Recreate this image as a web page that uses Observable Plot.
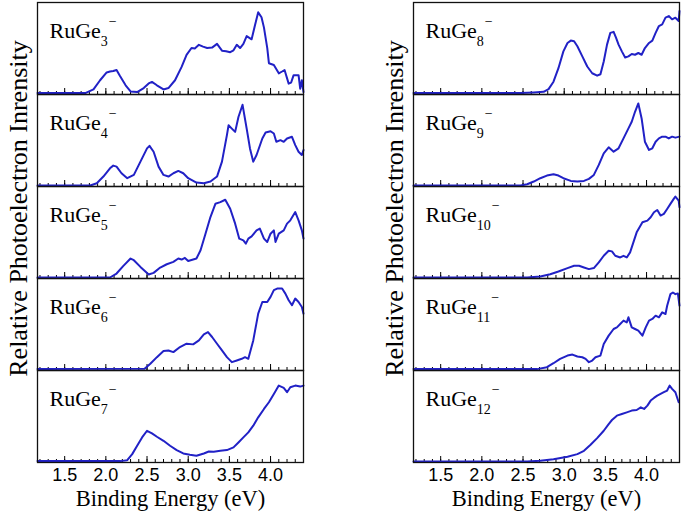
<!DOCTYPE html>
<html><head><meta charset="utf-8">
<script src="https://cdn.jsdelivr.net/npm/d3@7"></script>
<script src="https://cdn.jsdelivr.net/npm/@observablehq/plot@0.6"></script>
<style>
html,body{margin:0;padding:0;background:#fff;}
#chart{width:685px;height:514px;}
</style></head><body><div id="chart"></div>
<script>
// Cluster sizes n of RuGe_n^- and panel placement
const clusterSizes = [3, 4, 5, 6, 7, 8, 9, 10, 11, 12];
const columns = ["L", "L", "L", "L", "L", "R", "R", "R", "R", "R"];
const rows = [0, 1, 2, 3, 4, 0, 1, 2, 3, 4];

// Spectra: [binding energy (eV), relative intensity]
const ruge3 = [[1.17,0.015],[1.75,0.015],[1.85,0.055],[1.93,0.155],[2.01,0.24],[2.05,0.25],[2.09,0.255],[2.13,0.266],[2.17,0.203],[2.24,0.10],[2.30,0.033],[2.38,0.026],[2.46,0.07],[2.52,0.12],[2.56,0.137],[2.62,0.10],[2.70,0.055],[2.76,0.07],[2.84,0.155],[2.92,0.30],[2.98,0.43],[3.04,0.505],[3.08,0.50],[3.13,0.54],[3.18,0.52],[3.23,0.505],[3.29,0.51],[3.35,0.55],[3.41,0.476],[3.46,0.47],[3.51,0.46],[3.55,0.48],[3.59,0.54],[3.63,0.505],[3.67,0.55],[3.71,0.635],[3.77,0.60],[3.81,0.75],[3.85,0.893],[3.89,0.84],[3.92,0.727],[3.96,0.505],[3.98,0.34],[4.04,0.32],[4.10,0.23],[4.14,0.25],[4.17,0.266],[4.22,0.118],[4.25,0.13],[4.28,0.21],[4.34,0.21],[4.36,0.063],[4.38,0.155],[4.40,0.026]];
const ruge4 = [[1.17,0.011],[1.81,0.011],[1.89,0.036],[1.97,0.108],[2.05,0.198],[2.09,0.227],[2.13,0.216],[2.19,0.144],[2.26,0.090],[2.34,0.126],[2.42,0.270],[2.50,0.414],[2.53,0.442],[2.58,0.378],[2.64,0.216],[2.70,0.126],[2.76,0.108],[2.82,0.144],[2.88,0.169],[2.94,0.144],[3.00,0.090],[3.10,0.043],[3.19,0.036],[3.27,0.054],[3.35,0.108],[3.41,0.270],[3.47,0.558],[3.49,0.665],[3.53,0.629],[3.57,0.594],[3.61,0.755],[3.66,0.888],[3.71,0.629],[3.75,0.414],[3.79,0.270],[3.83,0.342],[3.90,0.522],[3.94,0.586],[4.00,0.601],[4.04,0.576],[4.07,0.486],[4.12,0.504],[4.16,0.486],[4.20,0.522],[4.26,0.540],[4.30,0.450],[4.34,0.378],[4.38,0.342],[4.40,0.396]];
const ruge5 = [[1.17,0.011],[2.05,0.011],[2.13,0.054],[2.21,0.134],[2.30,0.217],[2.34,0.199],[2.42,0.126],[2.52,0.043],[2.58,0.061],[2.66,0.119],[2.74,0.155],[2.82,0.181],[2.88,0.217],[2.92,0.206],[2.96,0.224],[3.00,0.191],[3.10,0.217],[3.15,0.307],[3.21,0.487],[3.27,0.668],[3.33,0.812],[3.39,0.830],[3.45,0.856],[3.51,0.758],[3.57,0.596],[3.62,0.433],[3.67,0.415],[3.70,0.379],[3.73,0.433],[3.77,0.458],[3.83,0.523],[3.87,0.542],[3.92,0.433],[3.96,0.397],[4.00,0.487],[4.04,0.523],[4.06,0.397],[4.10,0.487],[4.16,0.523],[4.20,0.596],[4.24,0.632],[4.30,0.722],[4.34,0.632],[4.38,0.523],[4.40,0.433]];
const ruge6 = [[1.17,0.015],[2.47,0.018],[2.54,0.073],[2.62,0.145],[2.70,0.211],[2.76,0.218],[2.82,0.200],[2.90,0.255],[2.98,0.291],[3.06,0.284],[3.13,0.327],[3.19,0.393],[3.24,0.418],[3.29,0.364],[3.35,0.291],[3.41,0.218],[3.47,0.145],[3.53,0.091],[3.59,0.109],[3.65,0.127],[3.69,0.145],[3.73,0.127],[3.79,0.327],[3.85,0.618],[3.90,0.745],[3.96,0.745],[4.00,0.800],[4.04,0.873],[4.08,0.891],[4.14,0.891],[4.18,0.836],[4.22,0.764],[4.26,0.709],[4.30,0.782],[4.34,0.745],[4.38,0.691],[4.40,0.618]];
const ruge7 = [[1.17,0.015],[2.18,0.015],[2.26,0.025],[2.32,0.091],[2.38,0.182],[2.44,0.273],[2.50,0.345],[2.56,0.316],[2.62,0.280],[2.70,0.236],[2.78,0.182],[2.86,0.135],[2.94,0.098],[3.02,0.084],[3.10,0.073],[3.19,0.098],[3.25,0.120],[3.31,0.116],[3.39,0.127],[3.47,0.135],[3.55,0.164],[3.61,0.218],[3.67,0.273],[3.73,0.327],[3.79,0.400],[3.85,0.491],[3.92,0.582],[3.98,0.655],[4.04,0.745],[4.10,0.836],[4.16,0.811],[4.20,0.764],[4.24,0.818],[4.30,0.836],[4.36,0.825],[4.40,0.836]];
const ruge8 = [[1.17,0.015],[2.47,0.015],[2.63,0.022],[2.75,0.029],[2.81,0.059],[2.87,0.139],[2.93,0.286],[2.99,0.469],[3.04,0.560],[3.08,0.586],[3.12,0.579],[3.16,0.524],[3.22,0.414],[3.28,0.304],[3.34,0.231],[3.40,0.205],[3.44,0.220],[3.48,0.359],[3.52,0.542],[3.56,0.670],[3.60,0.681],[3.63,0.615],[3.66,0.542],[3.70,0.469],[3.74,0.403],[3.78,0.414],[3.82,0.440],[3.86,0.432],[3.90,0.451],[3.94,0.432],[3.98,0.505],[4.03,0.560],[4.07,0.586],[4.11,0.670],[4.15,0.744],[4.19,0.762],[4.23,0.835],[4.27,0.853],[4.31,0.817],[4.35,0.835],[4.39,0.799],[4.40,0.908]];
const ruge9 = [[1.17,0.011],[2.47,0.011],[2.55,0.025],[2.63,0.054],[2.71,0.090],[2.79,0.119],[2.87,0.134],[2.93,0.119],[2.99,0.090],[3.08,0.061],[3.16,0.054],[3.24,0.061],[3.30,0.083],[3.36,0.126],[3.42,0.235],[3.48,0.361],[3.54,0.426],[3.60,0.379],[3.66,0.415],[3.72,0.523],[3.78,0.632],[3.82,0.704],[3.86,0.812],[3.90,0.903],[3.94,0.740],[3.98,0.487],[4.03,0.397],[4.07,0.415],[4.11,0.487],[4.15,0.523],[4.19,0.542],[4.23,0.542],[4.27,0.523],[4.31,0.542],[4.35,0.531],[4.40,0.542]];
const ruge10 = [[1.17,0.011],[2.55,0.011],[2.71,0.022],[2.83,0.047],[2.93,0.076],[3.04,0.113],[3.12,0.138],[3.18,0.138],[3.24,0.120],[3.30,0.102],[3.36,0.113],[3.42,0.175],[3.48,0.247],[3.54,0.302],[3.58,0.295],[3.62,0.247],[3.68,0.229],[3.72,0.247],[3.76,0.229],[3.80,0.284],[3.84,0.393],[3.88,0.502],[3.95,0.611],[4.01,0.629],[4.05,0.665],[4.09,0.720],[4.13,0.745],[4.17,0.684],[4.21,0.702],[4.25,0.756],[4.29,0.811],[4.33,0.865],[4.35,0.891],[4.39,0.847],[4.40,0.775]];
const ruge11 = [[1.17,0.015],[2.67,0.015],[2.79,0.036],[2.87,0.079],[2.95,0.126],[3.04,0.162],[3.10,0.173],[3.16,0.152],[3.22,0.144],[3.26,0.126],[3.30,0.090],[3.34,0.108],[3.38,0.144],[3.44,0.162],[3.48,0.289],[3.54,0.379],[3.60,0.451],[3.64,0.469],[3.68,0.505],[3.72,0.542],[3.76,0.523],[3.78,0.578],[3.82,0.469],[3.86,0.451],[3.90,0.433],[3.95,0.379],[3.99,0.469],[4.03,0.542],[4.07,0.560],[4.11,0.596],[4.15,0.578],[4.19,0.632],[4.23,0.614],[4.25,0.704],[4.29,0.830],[4.32,0.848],[4.35,0.830],[4.38,0.838],[4.40,0.704]];
const ruge12 = [[1.17,0.011],[2.55,0.011],[2.71,0.018],[2.87,0.036],[3.04,0.062],[3.16,0.091],[3.24,0.127],[3.32,0.193],[3.40,0.265],[3.48,0.345],[3.54,0.418],[3.58,0.462],[3.64,0.509],[3.70,0.527],[3.76,0.545],[3.82,0.564],[3.88,0.571],[3.93,0.600],[3.97,0.582],[4.01,0.618],[4.05,0.673],[4.09,0.702],[4.13,0.727],[4.17,0.745],[4.21,0.764],[4.25,0.782],[4.28,0.836],[4.31,0.800],[4.35,0.764],[4.39,0.655]];
const spectra = [ruge3, ruge4, ruge5, ruge6, ruge7, ruge8, ruge9, ruge10, ruge11, ruge12];

// Axis ticks and texts
const majorTicks = [1.5, 2.0, 2.5, 3.0, 3.5, 4.0];
const minorTicks = [1.2,1.3,1.4,1.5,1.6,1.7,1.8,1.9,2.0,2.1,2.2,2.3,2.4,2.5,2.6,2.7,2.8,2.9,3.0,3.1,3.2,3.3,3.4,3.5,3.6,3.7,3.8,3.9,4.0,4.1,4.2,4.3];
const xDomain = [1.17, 4.40];
const xTitle = "Binding Energy (eV)";
const yTitle = "Relative Photoelectron Inrensity";

// Build long table
const table = [];
spectra.forEach((s, i) => {
  s.forEach(([E, I]) => table.push({n: clusterSizes[i], col: columns[i], row: rows[i], E, I}));
});
const labels = clusterSizes.map((n, i) => ({label: "RuGe" + n, col: columns[i], row: rows[i]}));

const panelH = 92;
const serifFace = "Liberation Serif";
const sansFace = "Liberation Sans";
const blue = "#2121c6";

const svg = Plot.plot({
  width: 685,
  height: 514,
  marginLeft: 37,
  marginRight: 5,
  marginTop: 2,
  marginBottom: 52,
  style: {background: "white", color: "black"},
  x: {domain: xDomain},
  y: {domain: [0, 1], axis: null},
  fx: {domain: ["L", "R"], paddingInner: 0.292, paddingOuter: 0, axis: null},
  fy: {domain: [0, 1, 2, 3, 4], paddingInner: 0, paddingOuter: 0, axis: null},
  marks: [
    Plot.ruleX(minorTicks, {x: d => d, y1: 0, y2: 3 / panelH, stroke: "black", strokeWidth: 1}),
    Plot.ruleX(majorTicks, {x: d => d, y1: 0, y2: 6 / panelH, stroke: "black", strokeWidth: 1}),
    Plot.line(table, {x: "E", y: "I", z: "n", fx: "col", fy: "row", stroke: blue, strokeWidth: 2, curve: "linear"}),
    Plot.frame({stroke: "#111", strokeWidth: 1.3}),
    Plot.axisX({ticks: majorTicks, tickSize: 0, tickPadding: 6, tickFormat: d => d.toFixed(1), fontSize: 18, fontFamily: sansFace, label: null}),
    Plot.text(labels, {fx: "col", fy: "row", text: "label", frameAnchor: "top-left", textAnchor: "start", lineAnchor: "bottom", dx: 12, dy: 35, fontSize: 22, fontFamily: serifFace, fill: "black"}),
    Plot.text([{col: "L", row: 4}, {col: "R", row: 4}], {fx: "col", fy: "row", text: () => xTitle, frameAnchor: "bottom", textAnchor: "middle", lineAnchor: "bottom", dy: 43, fontSize: 22.5, fontFamily: serifFace, fill: "black"}),
    Plot.text([{col: "L", row: 2}, {col: "R", row: 2}], {fx: "col", fy: "row", text: () => yTitle, frameAnchor: "left", textAnchor: "middle", lineAnchor: "bottom", rotate: -90, dx: -11, dy: -24, fontSize: 26, fontFamily: serifFace, fill: "black"})
  ]
});

// Serif faces for the labels and titles; subscript n and superscript minus in panel labels
const ns = "http://www.w3.org/2000/svg";
svg.querySelectorAll("text").forEach(t => {
  const txt = t.textContent;
  const isTitle = txt === xTitle || txt === yTitle;
  const m = /^RuGe(\d+)$/.exec(txt);
  if (!isTitle && !m) return;
  t.setAttribute("font-family", serifFace);
  t.style.fontFamily = serifFace;
  if (!m) return;
  t.textContent = "";
  const a = document.createElementNS(ns, "tspan");
  a.textContent = "RuGe";
  const b = document.createElementNS(ns, "tspan");
  b.setAttribute("font-size", "14");
  b.setAttribute("dy", "8");
  b.textContent = m[1];
  const c = document.createElementNS(ns, "tspan");
  c.setAttribute("font-size", "14");
  c.setAttribute("dy", "-19.5");
  c.setAttribute("dx", "1");
  c.textContent = "\u2212";
  t.append(a, b, c);
});

document.getElementById("chart").append(svg);
</script>
</body></html>
